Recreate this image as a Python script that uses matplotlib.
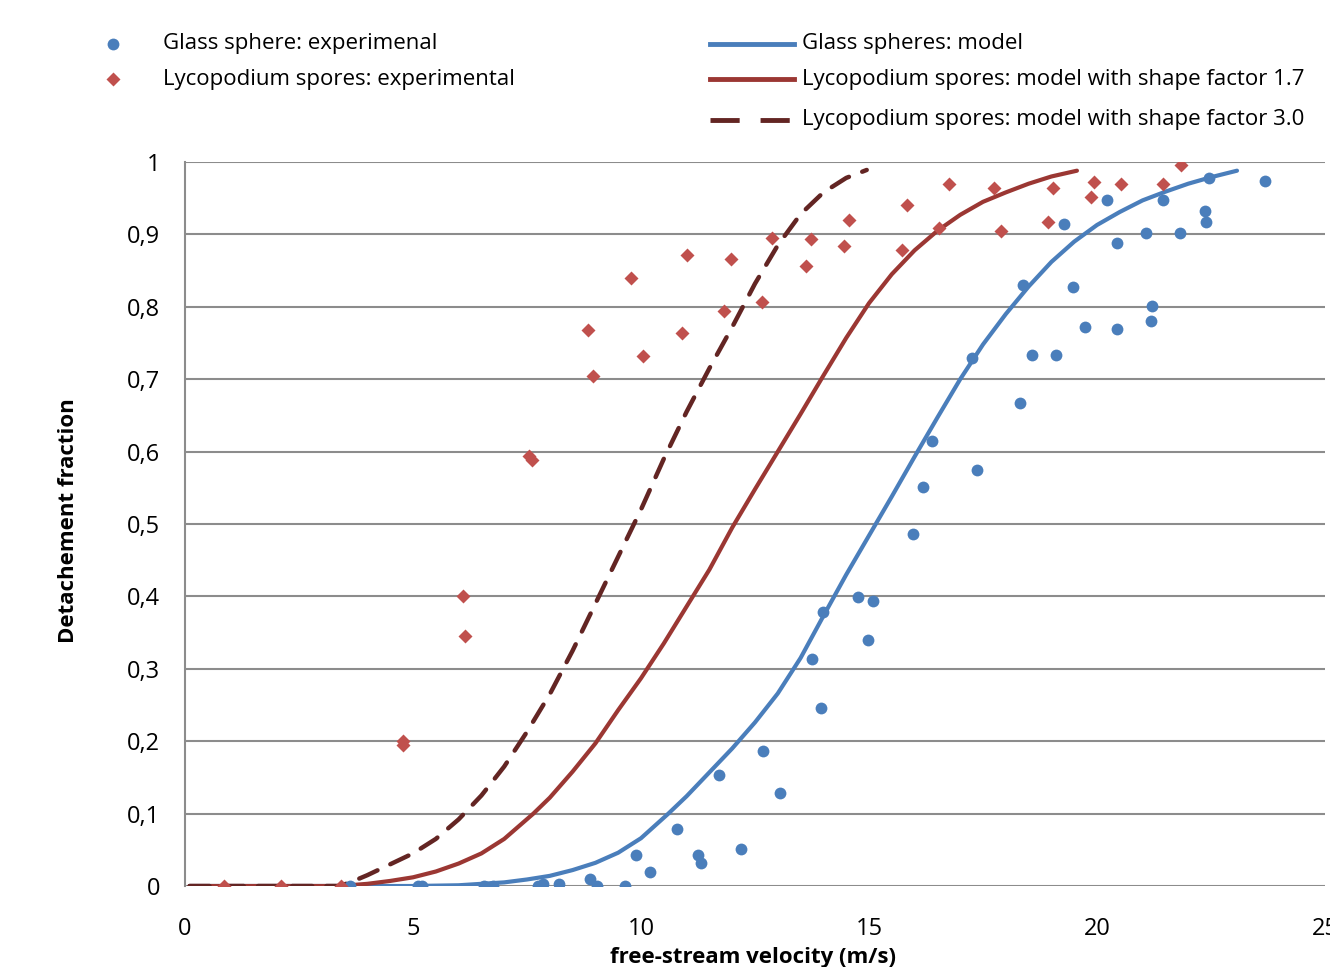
import matplotlib.pyplot as plt
from matplotlib.lines import Line2D
from matplotlib.ticker import FuncFormatter

glass_v = [3.62, 5.1, 5.2, 6.56, 6.76, 7.75, 7.85, 8.21, 8.89, 9.04, 9.64, 9.88, 10.19,
           10.78, 11.24, 11.31, 11.7, 12.2, 12.67, 13.04, 13.74, 13.94, 14.0, 14.75,
           15.08, 14.97, 15.96, 16.18, 16.38, 17.26, 17.37, 18.31, 18.37, 18.57, 19.1,
           19.28, 19.47, 19.74, 20.22, 20.44, 20.44, 21.08, 21.21, 21.19, 21.45, 21.82,
           22.37, 22.39, 22.46, 23.69]
glass_f = [0.0, 0.0, 0.0, 0.0, 0.0, 0.0, 0.003, 0.003, 0.01, 0.0, 0.0, 0.043, 0.02,
           0.079, 0.043, 0.032, 0.153, 0.051, 0.186, 0.128, 0.314, 0.246, 0.378, 0.399,
           0.394, 0.34, 0.486, 0.551, 0.615, 0.729, 0.575, 0.667, 0.83, 0.733, 0.733,
           0.914, 0.827, 0.772, 0.948, 0.888, 0.769, 0.902, 0.801, 0.78, 0.948, 0.902,
           0.932, 0.917, 0.978, 0.974]

lyco_v = [0.86, 2.1, 3.42, 4.79, 4.79, 6.1, 6.15, 7.55, 7.6, 8.83, 8.94, 9.79, 10.05,
          11.0, 10.89, 11.97, 11.81, 12.65, 12.87, 13.72, 13.61, 14.56, 14.45, 15.83,
          15.72, 16.53, 16.75, 17.74, 17.89, 19.03, 18.92, 19.93, 19.87, 20.53, 21.45,
          21.84]
lyco_f = [0.0, 0.0, 0.0, 0.2, 0.195, 0.4, 0.345, 0.594, 0.588, 0.768, 0.704, 0.84, 0.732,
          0.872, 0.764, 0.866, 0.794, 0.807, 0.895, 0.894, 0.856, 0.92, 0.884, 0.941,
          0.878, 0.909, 0.97, 0.964, 0.905, 0.964, 0.917, 0.972, 0.952, 0.97, 0.97, 0.996]

# model curves
glass_model_v = [0.1, 5.0, 6.0, 6.5, 7.0, 7.5, 8.0, 8.5, 9.0, 9.5, 10.0, 10.6, 11.0, 11.5,
                 12.0, 12.5, 13.0, 13.5, 14.0, 14.5, 15.0, 15.5, 16.0, 16.5, 17.0, 17.5,
                 18.0, 18.5, 19.0, 19.5, 20.0, 20.5, 21.0, 21.5, 22.0, 22.5, 23.07]
glass_model_f = [0.0, 0.0, 0.001, 0.003, 0.005, 0.009, 0.014, 0.022, 0.032, 0.046, 0.066,
                 0.1, 0.124, 0.157, 0.19, 0.226, 0.266, 0.315, 0.373, 0.43, 0.484, 0.538,
                 0.593, 0.647, 0.7, 0.748, 0.79, 0.828, 0.862, 0.89, 0.913, 0.931, 0.947,
                 0.959, 0.97, 0.979, 0.988]

lyco17_v = [0.1, 3.4, 4.0, 4.5, 5.0, 5.5, 6.0, 6.5, 7.0, 7.64, 8.0, 8.5, 9.0, 9.5, 10.0,
            10.5, 11.0, 11.5, 12.0, 12.5, 13.0, 13.5, 14.0, 14.5, 15.0, 15.5, 16.0, 16.5,
            17.0, 17.5, 18.0, 18.5, 19.0, 19.56]
lyco17_f = [0.0, 0.0, 0.003, 0.007, 0.012, 0.02, 0.031, 0.045, 0.065, 0.1, 0.122, 0.158,
            0.197, 0.243, 0.287, 0.335, 0.386, 0.437, 0.495, 0.548, 0.6, 0.652, 0.705,
            0.757, 0.805, 0.845, 0.878, 0.905, 0.927, 0.945, 0.958, 0.97, 0.98, 0.988]

lyco30_v = [0.1, 3.4, 3.7, 4.0, 4.5, 5.0, 5.5, 6.0, 6.5, 7.0, 7.5, 8.0, 8.5, 9.0, 9.5,
            10.0, 10.5, 11.0, 11.5, 12.0, 12.5, 13.0, 13.5, 14.0, 14.5, 14.95]
lyco30_f = [0.0, 0.0, 0.007, 0.015, 0.03, 0.045, 0.065, 0.092, 0.125, 0.165, 0.213,
            0.265, 0.325, 0.39, 0.455, 0.52, 0.59, 0.655, 0.715, 0.772, 0.832, 0.885,
            0.928, 0.958, 0.978, 0.989]

blue = '#4A7EBB'
red = '#C0504D'
red_line = '#9B3733'
dark_red = '#632523'

plt.rcParams['font.family'] = ['Open Sans', 'DejaVu Sans']

fig = plt.figure(figsize=(13.3, 9.67), dpi=100)
W, H = 1330, 967
ax = fig.add_axes([185/W, 1-886/H, 1140/W, 724/H])

ax.plot(glass_model_v, glass_model_f, color=blue, lw=3, solid_capstyle='round', zorder=3)
ax.plot(lyco17_v, lyco17_f, color=red_line, lw=3, solid_capstyle='round', zorder=3)
ax.plot(lyco30_v, lyco30_f, color=dark_red, lw=3.2, dashes=(4.5, 3.2),
        dash_capstyle='round', zorder=3)
ax.plot(glass_v, glass_f, 'o', color=blue, ms=8.5, mec='none', zorder=4)
ax.plot(lyco_v, lyco_f, 'D', color=red, ms=7, mec='none', zorder=4)

ax.set_xlim(0, 25)
ax.set_ylim(0, 1)
ax.set_yticks([i/10 for i in range(11)])
ax.set_xticks([0, 5, 10, 15, 20, 25])
ax.yaxis.set_major_formatter(FuncFormatter(lambda v, p: ('%g' % round(v, 1)).replace('.', ',')))
ax.grid(axis='y', color='#8C8C8C', lw=1.5)
ax.set_axisbelow(True)
ax.tick_params(length=0, labelsize=17)
ax.tick_params(axis='x', pad=22)
ax.tick_params(axis='y', pad=18)
for s in ['top', 'right', 'bottom']:
    ax.spines[s].set_visible(False)
ax.spines['left'].set_color('#8C8C8C')
ax.spines['left'].set_linewidth(1.5)

fig.text(753/W, 1-958/H, 'free-stream velocity (m/s)', fontsize=16, fontweight='bold',
         ha='center', va='center')
fig.text(68/W, 1-521/H, 'Detachement fraction', fontsize=16, fontweight='bold',
         rotation=90, ha='center', va='center')

# legend, laid out by hand like the original
fs = 16
fig.add_artist(Line2D([113/W], [1-44/H], marker='o', color=blue, ms=8.5, mec='none'))
fig.text(163/W, 1-44/H, 'Glass sphere: experimenal', fontsize=fs, va='center')
fig.add_artist(Line2D([113/W], [1-79/H], marker='D', color=red, ms=7, mec='none'))
fig.text(163/W, 1-79/H, 'Lycopodium spores: experimental', fontsize=fs, va='center')

right_rows = [(44, blue, None, 'Glass spheres: model'),
              (79, red_line, None, 'Lycopodium spores: model with shape factor 1.7'),
              (120, dark_red, (6.0, 4.3), 'Lycopodium spores: model with shape factor 3.0')]
for y, c, d, lab in right_rows:
    ln = Line2D([710/W, 794/W], [1-y/H, 1-y/H], color=c, lw=3.5)
    if d:
        ln.set_dashes(d)
    fig.add_artist(ln)
    fig.text(802/W, 1-y/H, lab, fontsize=fs, va='center')

fig.savefig('out.png', dpi=100)
